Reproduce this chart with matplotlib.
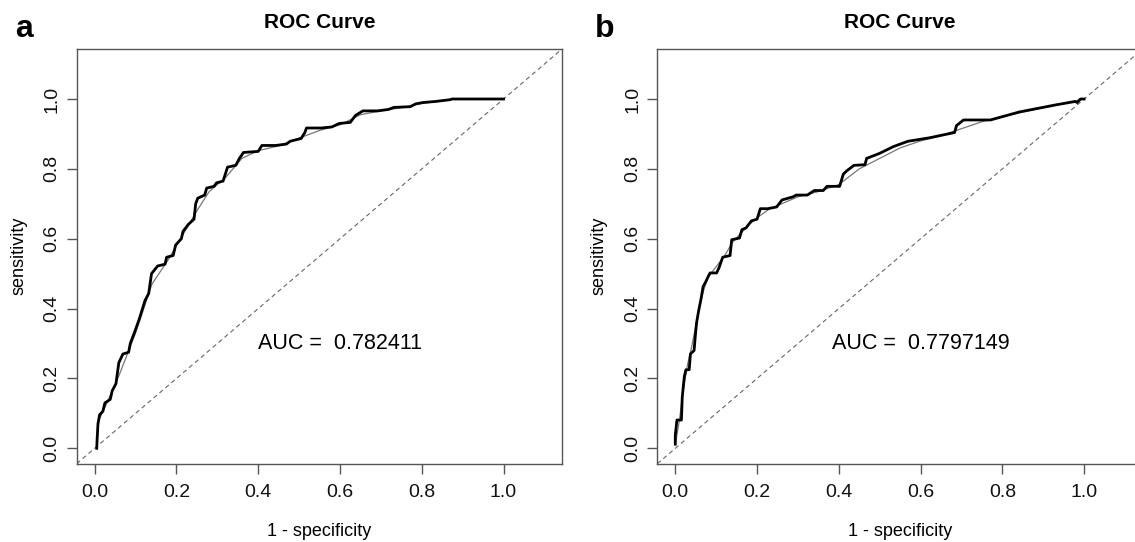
import numpy as np
import matplotlib
matplotlib.use('Agg')
import matplotlib.pyplot as plt

plt.rcParams['font.family'] = ['Liberation Sans', 'DejaVu Sans']

# panel a: empirical ROC (thick) and smoothed ROC (thin)
fpr_a = [0.005, 0.006, 0.008, 0.012, 0.020, 0.025, 0.038, 0.043, 0.052, 0.059,
         0.069, 0.083, 0.087, 0.098, 0.109, 0.123, 0.132, 0.139, 0.154, 0.172,
         0.176, 0.192, 0.198, 0.212, 0.216, 0.229, 0.243, 0.247, 0.252, 0.269,
         0.274, 0.292, 0.298, 0.314, 0.325, 0.345, 0.354, 0.364, 0.400, 0.409,
         0.443, 0.469, 0.478, 0.505, 0.514, 0.518, 0.554, 0.580, 0.598, 0.625,
         0.638, 0.656, 0.692, 0.718, 0.732, 0.772, 0.785, 0.803, 0.834, 0.869,
         0.874, 1.0]
tpr_a = [0.0, 0.027, 0.07, 0.096, 0.106, 0.13, 0.14, 0.165, 0.185, 0.245,
         0.27, 0.275, 0.30, 0.334, 0.37, 0.423, 0.443, 0.50, 0.522, 0.527,
         0.547, 0.552, 0.582, 0.60, 0.621, 0.641, 0.656, 0.70, 0.716, 0.725,
         0.745, 0.75, 0.76, 0.765, 0.805, 0.81, 0.83, 0.847, 0.85, 0.867,
         0.867, 0.871, 0.879, 0.887, 0.904, 0.917, 0.917, 0.92, 0.93, 0.933,
         0.953, 0.966, 0.966, 0.97, 0.976, 0.978, 0.986, 0.99, 0.993, 0.998,
         1.0, 1.0]
smooth_fpr_a = [0.005, 0.01, 0.03, 0.06, 0.10, 0.14, 0.18, 0.22, 0.25, 0.28, 0.32,
                0.36, 0.40, 0.45, 0.50, 0.55, 0.60, 0.65, 0.70, 0.75, 0.80, 0.85,
                0.88, 1.0]
smooth_tpr_a = [0.0, 0.08, 0.13, 0.21, 0.33, 0.47, 0.54, 0.62, 0.68, 0.735, 0.775,
                0.83, 0.852, 0.866, 0.888, 0.91, 0.926, 0.955, 0.966, 0.975, 0.987,
                0.995, 1.0, 1.0]
auc_a = '0.782411'

# panel b
fpr_b = [0.0, 0.0, 0.004, 0.015, 0.017, 0.022, 0.026, 0.034, 0.037, 0.046,
         0.048, 0.052, 0.057, 0.063, 0.068, 0.075, 0.081, 0.085, 0.101, 0.107,
         0.116, 0.134, 0.138, 0.157, 0.163, 0.173, 0.186, 0.20, 0.208, 0.226,
         0.248, 0.261, 0.288, 0.296, 0.323, 0.34, 0.362, 0.371, 0.402, 0.411,
         0.42, 0.437, 0.464, 0.468, 0.499, 0.534, 0.569, 0.622, 0.683, 0.688,
         0.705, 0.771, 0.842, 0.93, 0.978, 0.983, 0.991, 1.0]
tpr_b = [0.012, 0.037, 0.081, 0.081, 0.146, 0.205, 0.225, 0.225, 0.27, 0.28,
         0.309, 0.359, 0.393, 0.428, 0.463, 0.478, 0.493, 0.502, 0.502, 0.517,
         0.547, 0.552, 0.597, 0.602, 0.626, 0.631, 0.651, 0.656, 0.686, 0.686,
         0.691, 0.711, 0.72, 0.725, 0.725, 0.738, 0.738, 0.75, 0.75, 0.785,
         0.795, 0.81, 0.812, 0.83, 0.844, 0.864, 0.879, 0.889, 0.904, 0.924,
         0.94, 0.94, 0.963, 0.983, 0.993, 0.99, 1.0, 1.0]
smooth_fpr_b = [0.0, 0.01, 0.02, 0.03, 0.04, 0.05, 0.06, 0.07, 0.08, 0.10, 0.12,
                0.14, 0.16, 0.18, 0.20, 0.23, 0.26, 0.30, 0.35, 0.40, 0.45, 0.50,
                0.55, 0.60, 0.65, 0.70, 0.75, 0.80, 0.90, 1.0]
smooth_tpr_b = [0.01, 0.08, 0.17, 0.24, 0.29, 0.35, 0.41, 0.455, 0.49, 0.52, 0.55,
                0.59, 0.615, 0.64, 0.66, 0.685, 0.70, 0.72, 0.735, 0.755, 0.80, 0.83,
                0.86, 0.88, 0.895, 0.915, 0.935, 0.95, 0.975, 1.0]
auc_b = '0.7797149'

ticks = [0.0, 0.2, 0.4, 0.6, 0.8, 1.0]
W, H = 1135, 542

fig = plt.figure(figsize=(W / 100, H / 100), dpi=100)

panels = [
    ('a', 76.7, fpr_a, tpr_a, smooth_fpr_a, smooth_tpr_a, auc_a),
    ('b', 657.3, fpr_b, tpr_b, smooth_fpr_b, smooth_tpr_b, auc_b),
]
axw, top, bot = 485.7, 48.7, 463.7

for letter, left, fx, ty, sx, sy, auc in panels:
    ax = fig.add_axes([left / W, 1 - bot / H, axw / W, (bot - top) / H])
    lo, hi = -0.044, 1.144
    ax.plot([lo, hi], [lo, hi], ls=(0, (4, 3)), color='#666666', lw=0.8)
    ax.plot(sx, sy, color='#777777', lw=0.9)
    ax.plot(fx, ty, color='black', lw=2.0)
    ax.set_xlim(lo, hi)
    ax.set_ylim(lo, hi)
    ax.set_xticks(ticks)
    ax.set_yticks(ticks)
    ax.set_xticklabels(['%.1f' % t for t in ticks])
    ax.set_yticklabels(['%.1f' % t for t in ticks], rotation=90, va='center')
    ax.tick_params(axis='both', length=7.5, width=1.0, color='#555555',
                   labelsize=14, labelcolor='#111111')
    ax.tick_params(axis='x', pad=7)
    ax.tick_params(axis='y', pad=4)
    for s in ax.spines.values():
        s.set_color('#555555')
        s.set_linewidth(1.0)
    ax.text(0.6, 0.3, 'AUC =  ' + auc, ha='center', va='center', fontsize=15.5)

    cx = left + axw / 2
    fig.text(cx / W, 1 - 23 / H, 'ROC Curve', ha='center', va='center',
             fontsize=15, fontweight='bold')
    fig.text(cx / W, 1 - 531 / H, '1 - specificity', ha='center', va='center',
             fontsize=13)
    fig.text((left - 58) / W, 1 - 256 / H, 'sensitivity', ha='center', va='center',
             rotation=90, fontsize=13)
    fig.text((left - 62) / W, 1 - 37 / H, letter, ha='left', va='baseline',
             fontsize=23, fontweight='bold')

fig.savefig('out.png', dpi=100)
